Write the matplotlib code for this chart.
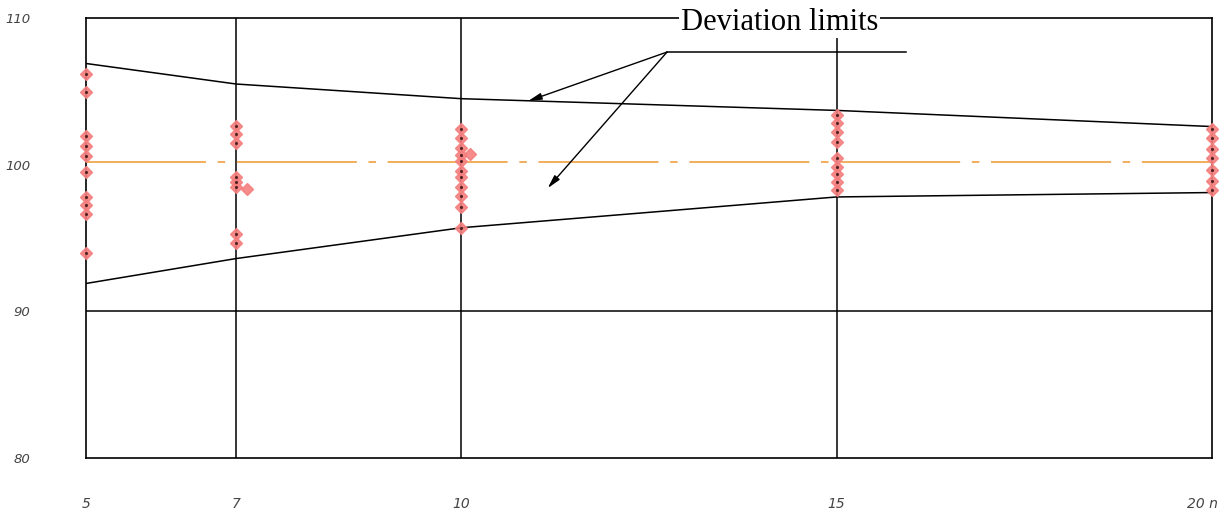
import matplotlib.pyplot as plt
from matplotlib.transforms import ScaledTranslation

# sample sizes on the x axis
x_ticks = [5, 7, 10, 15, 20]
x_labels = ['5', '7', '10', '15', '20 n']
y_ticks = [80, 90, 100, 110]

# deviation limits
upper_limit = [106.9, 105.5, 104.5, 103.7, 102.6]
lower_limit = [91.9, 93.6, 95.7, 97.8, 98.1]
nominal = 100.2

# measured points
pts_x5 = [106.2, 104.95, 101.95, 101.27, 100.59, 99.5, 97.8, 97.25, 96.63, 93.97]
pts_x7 = [102.65, 102.1, 101.47, 99.18, 98.84, 98.45, 95.25, 94.64]
pts_x10 = [102.45, 101.84, 101.11, 100.64, 100.25, 99.59, 99.13, 98.5, 97.86, 97.09, 95.7]
pts_x15 = [103.36, 102.86, 102.2, 101.54, 100.47, 99.86, 99.36, 98.81, 98.25]
pts_x20 = [102.4, 101.84, 101.06, 100.47, 99.63, 98.88, 98.27]
# stray points drawn beside the columns
stray_x = [7.15, 10.12]
stray_y = [98.34, 100.7]

fig = plt.figure(figsize=(12.24, 5.15), dpi=100)
ax = fig.add_axes([0.0703, 0.1107, 0.9199, 0.8543])

ax.set_xlim(5, 20)
ax.set_ylim(80, 110)

# grid lines
for xv in [7, 10, 15]:
    ax.axvline(xv, color='black', lw=1.1, zorder=1)
ax.axhline(90, color='black', lw=1.1, zorder=1)

ax.plot(x_ticks, upper_limit, color='black', lw=1.1, zorder=2)
ax.plot(x_ticks, lower_limit, color='black', lw=1.1, zorder=2)
ax.axhline(nominal, color='#f0a040', lw=1.2, dashes=(72, 7, 4.5, 7), zorder=2)

cols = [(5, pts_x5), (7, pts_x7), (10, pts_x10), (15, pts_x15), (20, pts_x20)]
for xv, ys in cols:
    ax.plot([xv] * len(ys), ys, 'D', ms=6, color='#f47f7f', mec='#f47f7f',
            alpha=0.9, zorder=3, clip_on=False)
    ax.plot([xv] * len(ys), ys, '.', ms=2.5, color='#552222', zorder=4, clip_on=False)
ax.plot(stray_x, stray_y, 'D', ms=6, color='#f47f7f', alpha=0.9, zorder=3)

# annotation
ax.plot([12.74, 15.92], [107.68, 107.68], color='black', lw=1.1, zorder=2)
arrow = dict(arrowstyle='-|>,head_length=0.8,head_width=0.2', color='black', lw=1.0,
             shrinkA=0, shrinkB=0)
ax.annotate('', xy=(10.89, 104.34), xytext=(12.74, 107.68), arrowprops=arrow)
ax.annotate('', xy=(11.15, 98.4), xytext=(12.74, 107.68), arrowprops=arrow)
ax.text(14.24, 109.7, 'Deviation limits', fontsize=22, family='Liberation Serif',
        ha='center', va='center', color='black', zorder=6,
        bbox=dict(facecolor='white', edgecolor='none', pad=1))

for s in ax.spines.values():
    s.set_color('black')
    s.set_linewidth(1.2)

ax.set_xticks(x_ticks)
ax.set_xticklabels(x_labels)
ax.set_yticks(y_ticks)
ax.tick_params(axis='x', length=0, pad=28, labelsize=10, labelcolor='#444444')
ax.tick_params(axis='y', length=0, pad=40, labelsize=9.5, labelcolor='#444444')
for lbl in ax.get_xticklabels() + ax.get_yticklabels():
    lbl.set_fontstyle('italic')
last = ax.get_xticklabels()[-1]
last.set_horizontalalignment('right')
last.set_transform(last.get_transform() + ScaledTranslation(6 / 100, 0, fig.dpi_scale_trans))

fig.savefig('out.png', dpi=100)
